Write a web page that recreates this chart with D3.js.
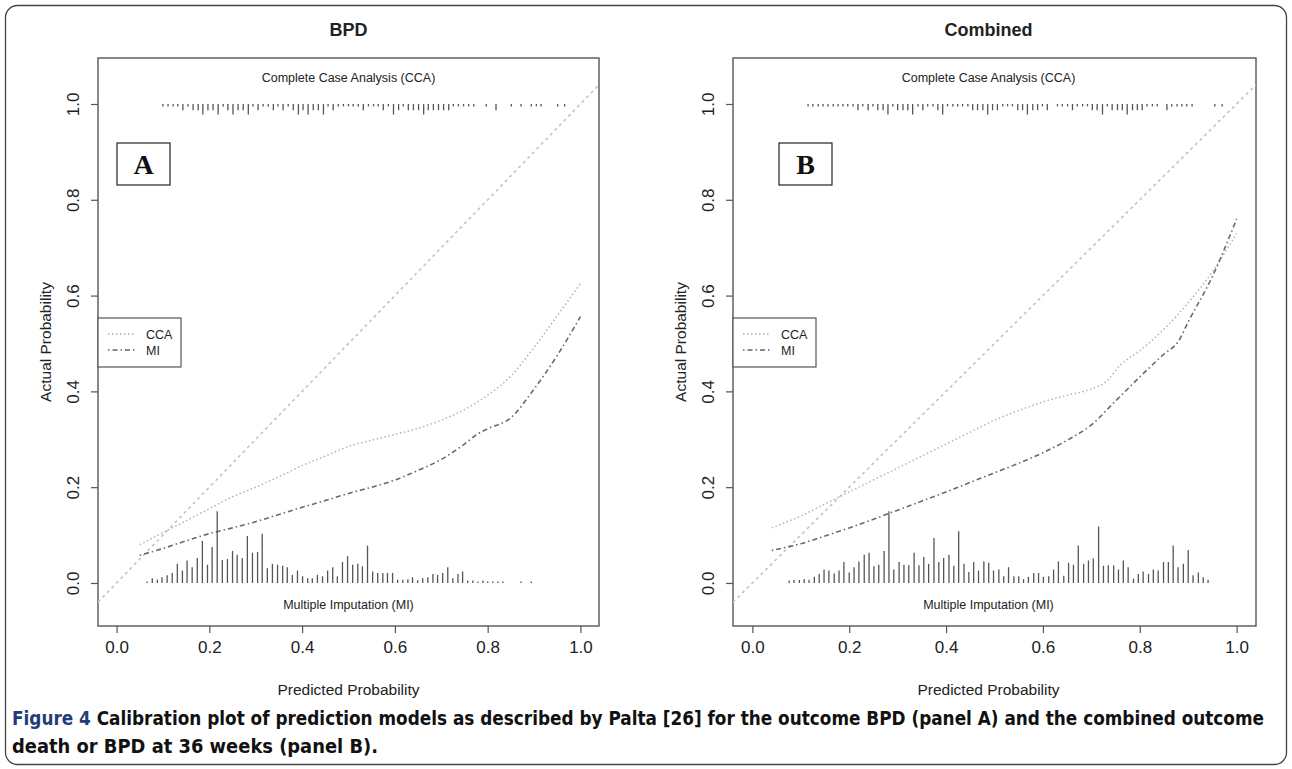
<!DOCTYPE html>
<html>
<head>
<meta charset="utf-8">
<script src="https://cdn.jsdelivr.net/npm/d3@7"></script>
<style>
  body { margin: 0; background: #fff; }
  svg { display: block; }
</style>
</head>
<body>
<svg id="chart" width="1292" height="769"></svg>
<script>
// ---- data ----
const xTicks = [0, 0.2, 0.4, 0.6, 0.8, 1.0];
const yTicks = [0, 0.2, 0.4, 0.6, 0.8, 1.0];
const tickLabels = ['0.0', '0.2', '0.4', '0.6', '0.8', '1.0'];

// panel A (BPD) calibration curves
const ccaAx = [0.05, 0.10, 0.15, 0.20, 0.25, 0.30, 0.35, 0.40, 0.45, 0.50, 0.55, 0.60, 0.65, 0.70, 0.75, 0.80, 0.85, 0.90, 0.95, 1.00];
const ccaAy = [0.080, 0.105, 0.130, 0.155, 0.180, 0.200, 0.222, 0.245, 0.265, 0.285, 0.298, 0.310, 0.323, 0.340, 0.362, 0.392, 0.432, 0.492, 0.558, 0.625];
const miAx = [0.05, 0.10, 0.15, 0.20, 0.25, 0.30, 0.35, 0.40, 0.45, 0.50, 0.55, 0.60, 0.65, 0.70, 0.75, 0.78, 0.80, 0.85, 0.90, 0.95, 1.00];
const miAy = [0.058, 0.072, 0.088, 0.103, 0.115, 0.128, 0.143, 0.158, 0.172, 0.187, 0.200, 0.215, 0.235, 0.258, 0.290, 0.312, 0.322, 0.345, 0.405, 0.475, 0.556];

// panel B (Combined) calibration curves
const ccaBx = [0.04, 0.10, 0.15, 0.20, 0.25, 0.30, 0.35, 0.40, 0.45, 0.50, 0.55, 0.60, 0.65, 0.70, 0.73, 0.76, 0.80, 0.85, 0.90, 0.95, 1.00];
const ccaBy = [0.115, 0.140, 0.165, 0.190, 0.215, 0.240, 0.265, 0.290, 0.315, 0.340, 0.360, 0.378, 0.392, 0.405, 0.420, 0.455, 0.485, 0.530, 0.585, 0.650, 0.730];
const miBx = [0.04, 0.10, 0.15, 0.20, 0.25, 0.30, 0.35, 0.40, 0.45, 0.50, 0.55, 0.60, 0.65, 0.70, 0.75, 0.80, 0.85, 0.88, 0.90, 0.95, 1.00];
const miBy = [0.068, 0.082, 0.098, 0.115, 0.133, 0.152, 0.171, 0.190, 0.210, 0.230, 0.250, 0.272, 0.298, 0.330, 0.380, 0.430, 0.478, 0.505, 0.545, 0.640, 0.760];

// spike histograms: CCA along the top (y = 1), MI along the bottom (y = 0)
const topAx = [0.100, 0.111, 0.122, 0.132, 0.143, 0.154, 0.165, 0.176, 0.186, 0.197, 0.208, 0.219, 0.230, 0.240, 0.251, 0.262, 0.273, 0.284, 0.294, 0.305, 0.316, 0.327, 0.338, 0.348, 0.359, 0.370, 0.381, 0.392, 0.402, 0.413, 0.424, 0.435, 0.446, 0.456, 0.467, 0.478, 0.489, 0.500, 0.510, 0.521, 0.532, 0.543, 0.554, 0.564, 0.575, 0.586, 0.597, 0.608, 0.618, 0.629, 0.640, 0.651, 0.662, 0.672, 0.683, 0.694, 0.705, 0.716, 0.726, 0.737, 0.748, 0.759, 0.770,
  0.797, 0.818, 0.851, 0.872, 0.894, 0.905, 0.915, 0.951, 0.966];
const topAh = [0.005, 0.005, 0.005, 0.005, 0.013, 0.005, 0.013, 0.013, 0.022, 0.013, 0.013, 0.022, 0.005, 0.013, 0.022, 0.013, 0.013, 0.022, 0.005, 0.013, 0.005, 0.005, 0.013, 0.005, 0.013, 0.005, 0.013, 0.022, 0.013, 0.022, 0.013, 0.013, 0.022, 0.005, 0.013, 0.005, 0.005, 0.005, 0.005, 0.005, 0.013, 0.005, 0.005, 0.005, 0.013, 0.005, 0.022, 0.013, 0.005, 0.013, 0.013, 0.013, 0.022, 0.013, 0.013, 0.013, 0.013, 0.013, 0.005, 0.005, 0.005, 0.005, 0.005,
  0.005, 0.013, 0.005, 0.005, 0.005, 0.005, 0.005, 0.005, 0.005];
const botAx = [0.066, 0.077, 0.088, 0.098, 0.109, 0.120, 0.131, 0.142, 0.152, 0.163, 0.174, 0.185, 0.196, 0.206, 0.217, 0.228, 0.239, 0.250, 0.260, 0.271, 0.282, 0.293, 0.304, 0.314, 0.325, 0.336, 0.347, 0.358, 0.368, 0.379, 0.390, 0.401, 0.412, 0.422, 0.433, 0.444, 0.455, 0.466, 0.476, 0.487, 0.498, 0.509, 0.520, 0.530, 0.541, 0.552, 0.563, 0.574, 0.584, 0.595, 0.606, 0.617, 0.628, 0.638, 0.649, 0.660, 0.671, 0.682, 0.692, 0.703, 0.714, 0.725, 0.736, 0.746, 0.757, 0.768, 0.779, 0.790, 0.800, 0.811, 0.822, 0.833,
  0.872, 0.894];
const botAh = [0.003, 0.010, 0.007, 0.012, 0.016, 0.021, 0.040, 0.026, 0.047, 0.033, 0.052, 0.088, 0.038, 0.075, 0.150, 0.048, 0.050, 0.067, 0.059, 0.052, 0.098, 0.063, 0.065, 0.103, 0.031, 0.040, 0.038, 0.036, 0.033, 0.017, 0.026, 0.014, 0.010, 0.010, 0.017, 0.014, 0.026, 0.033, 0.014, 0.044, 0.056, 0.038, 0.040, 0.035, 0.078, 0.024, 0.021, 0.021, 0.021, 0.021, 0.007, 0.007, 0.008, 0.012, 0.006, 0.010, 0.012, 0.019, 0.017, 0.021, 0.033, 0.010, 0.019, 0.024, 0.005, 0.005, 0.003, 0.005, 0.003, 0.003, 0.003, 0.003,
  0.003, 0.003];

const topBx = [0.115, 0.125, 0.136, 0.146, 0.156, 0.167, 0.177, 0.187, 0.197, 0.208, 0.218, 0.228, 0.239, 0.249, 0.259, 0.270, 0.280, 0.290, 0.300, 0.311, 0.321, 0.331, 0.342, 0.352, 0.362, 0.373, 0.383, 0.393, 0.403, 0.414, 0.424, 0.434, 0.445, 0.455, 0.465, 0.476, 0.486, 0.496, 0.506, 0.517, 0.527, 0.537, 0.548, 0.558, 0.568, 0.579, 0.589, 0.599, 0.609,
  0.630, 0.640, 0.651, 0.661, 0.671, 0.682, 0.692, 0.702, 0.712, 0.723, 0.733, 0.743, 0.754, 0.764, 0.774, 0.785, 0.795, 0.805, 0.815, 0.826, 0.836,
  0.856, 0.866, 0.877, 0.887, 0.897, 0.908, 0.955, 0.970];
const topBh = [0.005, 0.005, 0.005, 0.005, 0.005, 0.005, 0.005, 0.005, 0.005, 0.005, 0.013, 0.005, 0.013, 0.005, 0.013, 0.013, 0.022, 0.005, 0.013, 0.013, 0.013, 0.022, 0.005, 0.013, 0.005, 0.005, 0.013, 0.022, 0.005, 0.005, 0.005, 0.005, 0.005, 0.013, 0.013, 0.013, 0.022, 0.013, 0.013, 0.005, 0.005, 0.005, 0.013, 0.013, 0.022, 0.013, 0.013, 0.005, 0.013,
  0.005, 0.005, 0.005, 0.013, 0.005, 0.005, 0.005, 0.013, 0.013, 0.022, 0.005, 0.013, 0.013, 0.013, 0.022, 0.013, 0.013, 0.013, 0.005, 0.005, 0.005,
  0.013, 0.005, 0.005, 0.005, 0.005, 0.005, 0.005, 0.005];
const botBx = [0.076, 0.086, 0.097, 0.107, 0.117, 0.128, 0.138, 0.148, 0.158, 0.169, 0.179, 0.189, 0.200, 0.210, 0.220, 0.231, 0.241, 0.251, 0.261, 0.272, 0.282, 0.292, 0.303, 0.313, 0.323, 0.334, 0.344, 0.354, 0.364, 0.375, 0.385, 0.395, 0.406, 0.416, 0.426, 0.437, 0.447, 0.457, 0.467, 0.478, 0.488, 0.498, 0.509, 0.519, 0.529, 0.540, 0.550, 0.560, 0.570, 0.581, 0.591, 0.601, 0.612, 0.622, 0.632, 0.643, 0.653, 0.663, 0.673, 0.684, 0.694, 0.704, 0.715, 0.725, 0.735, 0.746, 0.756, 0.766, 0.776, 0.787, 0.797, 0.807, 0.818, 0.828, 0.838, 0.849, 0.859, 0.869, 0.879, 0.890, 0.900, 0.910, 0.921, 0.931, 0.941];
const botBh = [0.005, 0.006, 0.006, 0.008, 0.007, 0.013, 0.019, 0.028, 0.026, 0.020, 0.026, 0.044, 0.022, 0.033, 0.045, 0.059, 0.063, 0.035, 0.038, 0.067, 0.150, 0.028, 0.044, 0.038, 0.037, 0.063, 0.037, 0.054, 0.040, 0.094, 0.044, 0.052, 0.059, 0.036, 0.108, 0.040, 0.023, 0.044, 0.026, 0.045, 0.042, 0.026, 0.028, 0.014, 0.033, 0.014, 0.014, 0.008, 0.013, 0.021, 0.021, 0.013, 0.014, 0.028, 0.045, 0.015, 0.042, 0.038, 0.078, 0.040, 0.047, 0.051, 0.118, 0.036, 0.037, 0.037, 0.028, 0.047, 0.033, 0.009, 0.019, 0.024, 0.019, 0.028, 0.026, 0.044, 0.044, 0.078, 0.033, 0.040, 0.069, 0.016, 0.022, 0.012, 0.007];

const caption1 = 'Calibration plot of prediction models as described by Palta [26] for the outcome BPD (panel A) and the combined outcome';
const caption2 = 'death or BPD at 36 weeks (panel B).';

// ---- drawing ----
const svg = d3.select('#chart');
const font = '"Liberation Sans", Arial, sans-serif';

svg.append('rect')
    .attr('x', 5.5).attr('y', 5.5)
    .attr('width', 1281).attr('height', 759)
    .attr('rx', 12)
    .attr('fill', '#fff')
    .attr('stroke', '#444')
    .attr('stroke-width', 1.3);

const panels = [
    {id: 'a', title: 'BPD', letter: 'A', left: 98, right: 599, letterX: 117,
     cca: d3.zip(ccaAx, ccaAy), mi: d3.zip(miAx, miAy), top: d3.zip(topAx, topAh), bottom: d3.zip(botAx, botAh)},
    {id: 'b', title: 'Combined', letter: 'B', left: 733, right: 1256, letterX: 779,
     cca: d3.zip(ccaBx, ccaBy), mi: d3.zip(miBx, miBy), top: d3.zip(topBx, topBh), bottom: d3.zip(botBx, botBh)}
];

const boxTop = 58, boxBottom = 626;

panels.forEach(p => {
    const x = d3.scaleLinear().domain([-0.04, 1.04]).range([p.left, p.right]);
    const y = d3.scaleLinear().domain([-0.0898, 1.096]).range([boxBottom, boxTop]);
    const cx = x(0.5) - (p.id === 'b' ? 6 : 0);
    const g = svg.append('g');

    g.append('clipPath').attr('id', 'clip-' + p.id)
        .append('rect')
        .attr('x', p.left).attr('y', boxTop)
        .attr('width', p.right - p.left).attr('height', boxBottom - boxTop);

    // axes
    const xAxis = g.append('g')
        .attr('transform', `translate(0, ${boxBottom})`)
        .call(d3.axisBottom(x).tickValues(xTicks).tickSize(7).tickPadding(8).tickFormat((d, i) => tickLabels[i]));
    const yAxis = g.append('g')
        .attr('transform', `translate(${p.left}, 0)`)
        .call(d3.axisLeft(y).tickValues(yTicks).tickSize(7).tickFormat((d, i) => tickLabels[i]));
    [xAxis, yAxis].forEach(a => {
        a.select('.domain').remove();
        a.selectAll('line').attr('stroke', '#555').attr('stroke-width', 1.2);
        a.selectAll('text').attr('fill', '#222').style('font-family', font).style('font-size', '17px');
    });
    yAxis.selectAll('text')
        .attr('x', null).attr('dy', null)
        .attr('text-anchor', 'middle')
        .attr('transform', 'translate(-19, 0) rotate(-90)');

    // plot box
    g.append('rect')
        .attr('x', p.left).attr('y', boxTop)
        .attr('width', p.right - p.left).attr('height', boxBottom - boxTop)
        .attr('fill', 'none').attr('stroke', '#555').attr('stroke-width', 1.4);

    // titles
    g.append('text').attr('x', cx).attr('y', 36)
        .attr('text-anchor', 'middle').style('font-family', font)
        .style('font-size', '18px').style('font-weight', 'bold').attr('fill', '#222')
        .text(p.title);
    g.append('text').attr('x', cx).attr('y', 695)
        .attr('text-anchor', 'middle').style('font-family', font)
        .style('font-size', '15.5px').attr('fill', '#222')
        .text('Predicted Probability');
    g.append('text')
        .attr('transform', `translate(${p.left - 47}, ${(boxTop + boxBottom) / 2}) rotate(-90)`)
        .attr('text-anchor', 'middle').style('font-family', font)
        .style('font-size', '15.5px').attr('fill', '#222')
        .text('Actual Probability');
    g.append('text').attr('x', cx).attr('y', 82)
        .attr('text-anchor', 'middle').style('font-family', font)
        .style('font-size', '12.5px').attr('fill', '#222')
        .text('Complete Case Analysis (CCA)');
    g.append('text').attr('x', cx).attr('y', 609)
        .attr('text-anchor', 'middle').style('font-family', font)
        .style('font-size', '12.5px').attr('fill', '#222')
        .text('Multiple Imputation (MI)');

    const plot = g.append('g').attr('clip-path', `url(#clip-${p.id})`);

    // reference diagonal
    plot.append('line')
        .attr('x1', x(-0.04)).attr('y1', y(-0.04))
        .attr('x2', x(1.04)).attr('y2', y(1.04))
        .attr('stroke', '#c2c2c2').attr('stroke-width', 1.6)
        .attr('stroke-dasharray', '3 3.5');

    const line = d3.line().x(d => x(d[0])).y(d => y(d[1])).curve(d3.curveMonotoneX);

    plot.append('path').datum(p.cca)
        .attr('fill', 'none').attr('stroke', '#b4b4b4').attr('stroke-width', 1.5)
        .attr('stroke-dasharray', '1.5 2.5')
        .attr('d', line);
    plot.append('path').datum(p.mi)
        .attr('fill', 'none').attr('stroke', '#6a6a6a').attr('stroke-width', 1.6)
        .attr('stroke-dasharray', '1.5 3 5 3')
        .attr('d', line);

    // spike histograms
    plot.selectAll('.spike-top').data(p.top).join('line')
        .attr('class', 'spike-top')
        .attr('x1', d => x(d[0])).attr('x2', d => x(d[0]))
        .attr('y1', y(1)).attr('y2', d => y(1 - d[1]))
        .attr('stroke', '#555').attr('stroke-width', 1.3);
    plot.selectAll('.spike-bottom').data(p.bottom).join('line')
        .attr('class', 'spike-bottom')
        .attr('x1', d => x(d[0])).attr('x2', d => x(d[0]))
        .attr('y1', y(0)).attr('y2', d => y(d[1]))
        .attr('stroke', '#555').attr('stroke-width', 1.3);

    // legend
    const leg = g.append('g').attr('transform', `translate(${p.left}, 318)`);
    leg.append('rect').attr('width', 83).attr('height', 49)
        .attr('fill', '#fff').attr('stroke', '#555').attr('stroke-width', 1.2);
    leg.append('line').attr('x1', 10).attr('x2', 38).attr('y1', 16).attr('y2', 16)
        .attr('stroke', '#b0b0b0').attr('stroke-width', 1.3).attr('stroke-dasharray', '1.5 2.5');
    leg.append('line').attr('x1', 10).attr('x2', 38).attr('y1', 32).attr('y2', 32)
        .attr('stroke', '#666').attr('stroke-width', 1.3).attr('stroke-dasharray', '1.5 3 5 3');
    leg.append('text').attr('x', 48).attr('y', 20.5).text('CCA')
        .style('font-family', font).style('font-size', '12.5px').attr('fill', '#222');
    leg.append('text').attr('x', 48).attr('y', 36.5).text('MI')
        .style('font-family', font).style('font-size', '12.5px').attr('fill', '#222');

    // panel letter
    g.append('rect').attr('x', p.letterX).attr('y', 143).attr('width', 53).attr('height', 42)
        .attr('fill', '#fff').attr('stroke', '#222').attr('stroke-width', 1.2);
    g.append('text').attr('x', p.letterX + 26.5).attr('y', 174)
        .attr('text-anchor', 'middle')
        .style('font-family', '"Liberation Serif", "Times New Roman", serif')
        .style('font-size', '28px').style('font-weight', 'bold').attr('fill', '#111')
        .text(p.letter);
});

// caption
const capFont = '"Liberation Sans Narrow", "DejaVu Sans Condensed", "Liberation Sans", sans-serif';
const cap1 = svg.append('text').attr('x', 12).attr('y', 725)
    .attr('textLength', 1252).attr('lengthAdjust', 'spacingAndGlyphs')
    .style('font-family', capFont).style('font-size', '19px').style('font-weight', 'bold')
    .attr('fill', '#111');
cap1.append('tspan').attr('fill', '#1f3d78').text('Figure 4');
cap1.append('tspan').text(' ' + caption1);
svg.append('text').attr('x', 12).attr('y', 753)
    .attr('textLength', 366).attr('lengthAdjust', 'spacingAndGlyphs')
    .style('font-family', capFont).style('font-size', '19px').style('font-weight', 'bold')
    .attr('fill', '#111')
    .text(caption2);
</script>
</body>
</html>
